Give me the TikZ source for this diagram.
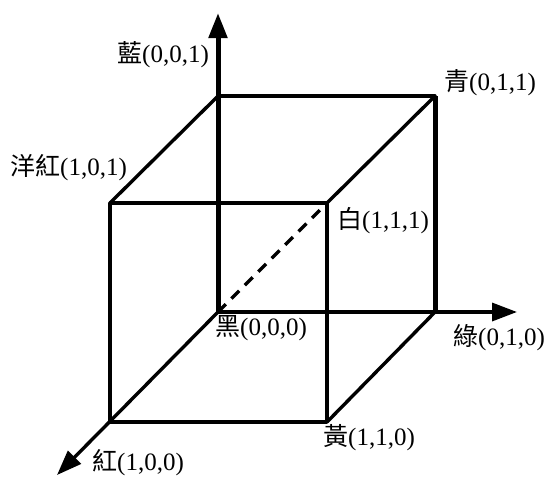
\documentclass[tikz,border=0pt]{standalone}
\usepackage{fontspec}
\setmainfont{Liberation Serif}
\newfontfamily\cjk{Noto Sans CJK TC}
\usetikzlibrary{arrows.meta}
\begin{document}
\begin{tikzpicture}[x=1pt,y=-1pt,
  edge/.style={line width=3.4pt,line cap=round,line join=round},
  heavy/.style={line width=5pt},
  axis/.style={line width=3.4pt,-{Triangle[length=25pt,width=18pt]}},
  lbl/.style={anchor=base west,inner sep=0pt,font=\fontsize{25}{28}\selectfont}]
\useasboundingbox (0,0) rectangle (551,477);
% corners
\coordinate (O) at (218,312);   % black
\coordinate (B) at (218,96);    % blue
\coordinate (C) at (435,96);    % cyan
\coordinate (G) at (435,312);   % green
\coordinate (M) at (110,203);   % magenta
\coordinate (W) at (327,203);   % white
\coordinate (Y) at (327,422);   % yellow
\coordinate (R) at (110,422);   % red
\coordinate (Btip) at (218,13);
\coordinate (Gtip) at (517,312);
\coordinate (Rtip) at (57,475);
% axes
\draw[axis,line width=5pt] (O) -- (Btip);
\draw[axis] (O) -- (Gtip);
\draw[axis] (O) -- (Rtip);
% cube edges
\draw[edge] (B) -- (C);
\draw[heavy] (C) -- (G);
\draw[edge] (M) -- (W) -- (Y) -- (R) -- cycle;
\draw[edge] (M) -- (B);
\draw[edge] (W) -- (C);
\draw[edge] (Y) -- (G);
\draw[line width=3.4pt,dash pattern=on 11pt off 8pt] (O) -- (W);
% labels
\node[lbl] (lB) at (117,62) {{\cjk 藍}(0,0,1)};
\node[lbl] (lM) at (10,175) {{\cjk 洋紅}(1,0,1)};
\node[lbl] (lC) at (444,90) {{\cjk 青}(0,1,1)};
\node[lbl] (lW) at (337,228) {{\cjk 白}(1,1,1)};
\node[lbl] (lO) at (215,335) {{\cjk 黑}(0,0,0)};
\node[lbl] (lG) at (453,345) {{\cjk 綠}(0,1,0)};
\node[lbl] (lY) at (323,445) {{\cjk 黃}(1,1,0)};
\node[lbl] (lR) at (92,470) {{\cjk 紅}(1,0,0)};
\end{tikzpicture}
\end{document}
